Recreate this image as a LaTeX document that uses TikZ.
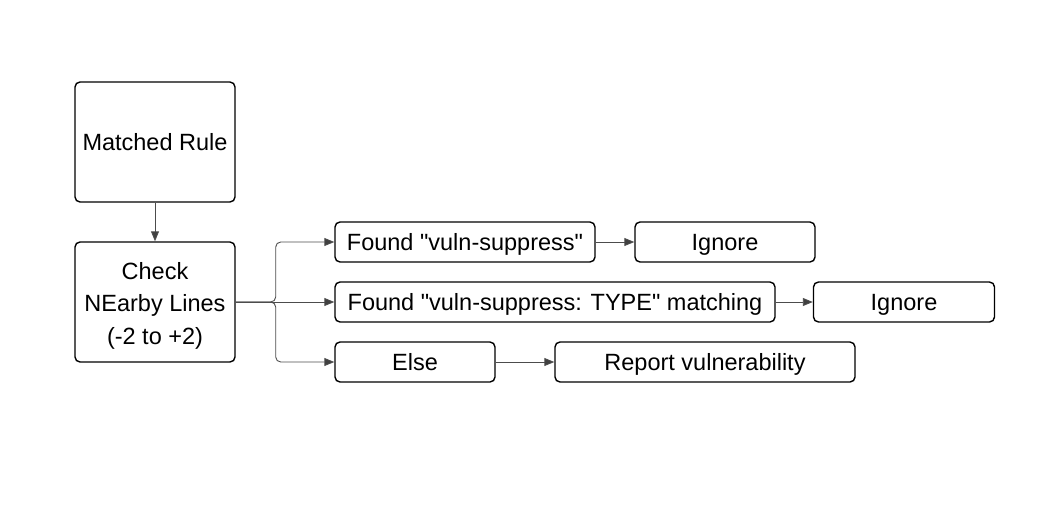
\documentclass[tikz,border=0pt]{standalone}
\usepackage{fontspec}
\setmainfont{Liberation Sans}[Ligatures=TeXOff]
\usetikzlibrary{arrows.meta}
\begin{document}
\begin{tikzpicture}[x=1pt,y=-1pt,
  box/.style={draw=black,line width=1.4pt,rounded corners=5pt,inner sep=0pt,align=center,font=\fontsize{23.5}{32.5}\selectfont},
  one/.style={box,text height=19pt,text depth=2.2pt},
  conn/.style={draw=black!70,line width=0.9pt,-{Triangle[length=10pt,width=8pt,fill=black!75]}}]
\useasboundingbox (0,0) rectangle (1062,530);
\node[one,minimum width=160pt,minimum height=120pt] (mr) at (155,142) {Matched Rule};
\node[box,minimum width=160pt,minimum height=120pt] (chk) at (155,302) {\rule{0pt}{24pt}Check\\NEarby Lines\\(-2 to +2)};
\node[one,minimum width=260pt,minimum height=40pt] (f1) at (465,242) {Found "vuln-suppress"};
\node[one,minimum width=180pt,minimum height=40pt] (i1) at (725,242) {Ignore};
\node[one,minimum width=440pt,minimum height=40pt] (f2) at (555,302) {Found "vuln-suppress: TYPE" matching};
\node[one,minimum width=181pt,minimum height=40pt] (i2) at (904,302) {Ignore};
\node[one,minimum width=160pt,minimum height=40pt] (el) at (415,362) {Else};
\node[one,minimum width=300pt,minimum height=40pt] (rp) at (705,362) {Report vulnerability};
\draw[conn] (mr) -- (chk);
\draw[conn,rounded corners=5pt] (chk.east) -- ++(40,0) |- (f1.west);
\draw[conn] (chk.east) -- (f2.west);
\draw[conn,rounded corners=5pt] (chk.east) -- ++(40,0) |- (el.west);
\draw[conn] (f1) -- (i1);
\draw[conn] (f2) -- (i2);
\draw[conn] (el) -- (rp);
\end{tikzpicture}
\end{document}
